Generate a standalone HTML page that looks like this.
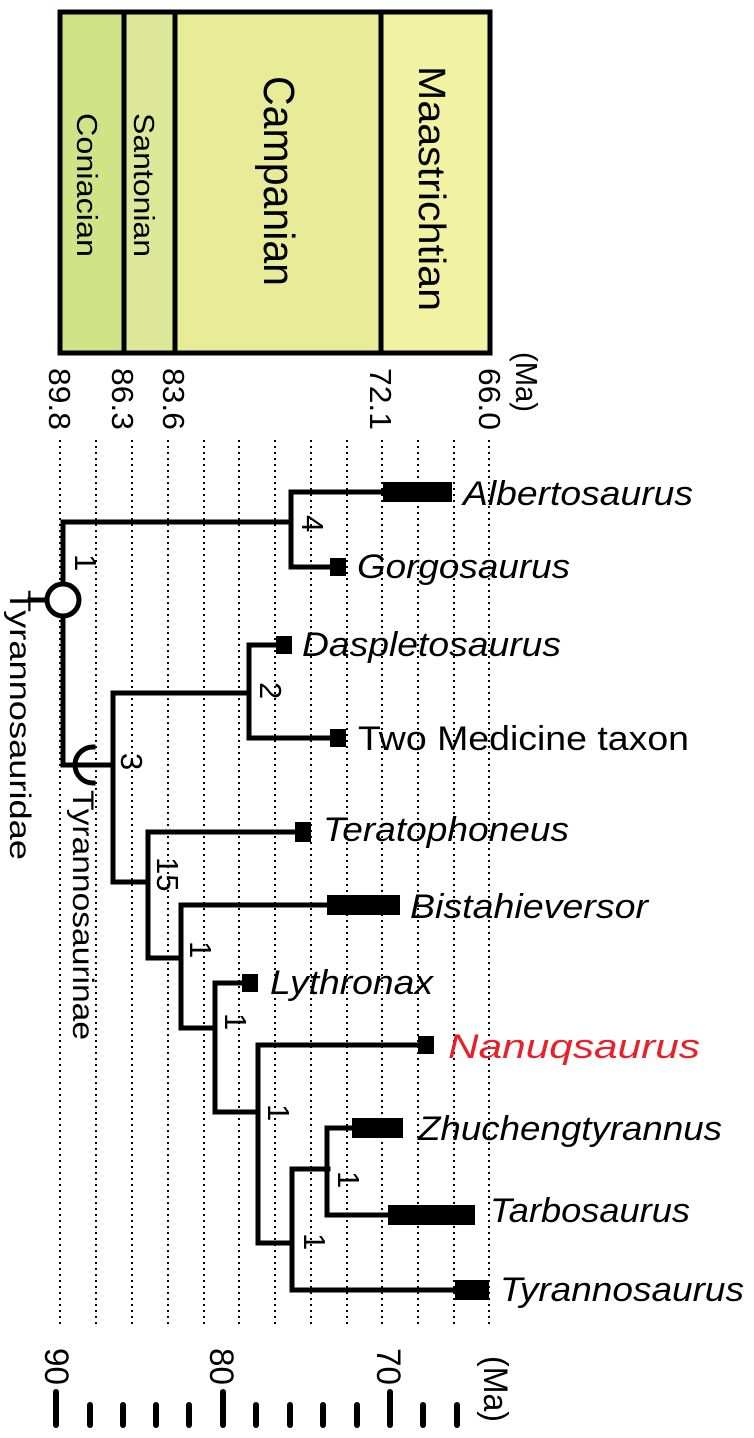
<!DOCTYPE html>
<html><head><meta charset="utf-8"><style>
html,body{margin:0;padding:0;background:#fff;}
svg{display:block;font-family:"Liberation Sans",sans-serif;}
</style></head><body>
<svg width="754" height="1438" viewBox="0 0 754 1438" xmlns="http://www.w3.org/2000/svg">
<rect x="60" y="12" width="64" height="341" fill="#d2e287"/>
<rect x="124" y="12" width="51" height="341" fill="#dce797"/>
<rect x="175" y="12" width="206" height="341" fill="#e8eb98"/>
<rect x="381" y="12" width="109" height="341" fill="#f2f2a3"/>
<rect x="60" y="12" width="430" height="341" fill="none" stroke="#000" stroke-width="5"/>
<line x1="124" y1="12" x2="124" y2="353" stroke="#000" stroke-width="5"/>
<line x1="175" y1="12" x2="175" y2="353" stroke="#000" stroke-width="5"/>
<line x1="381" y1="12" x2="381" y2="353" stroke="#000" stroke-width="5"/>
<g fill="#000">
<text transform="translate(77,113) rotate(90)" font-size="29" textLength="144" lengthAdjust="spacingAndGlyphs">Coniacian</text>
<text transform="translate(134,113) rotate(90)" font-size="29" textLength="144" lengthAdjust="spacingAndGlyphs">Santonian</text>
<text transform="translate(264,76) rotate(90)" font-size="44" textLength="210" lengthAdjust="spacingAndGlyphs">Campanian</text>
<text transform="translate(419,66) rotate(90)" font-size="38" textLength="245" lengthAdjust="spacingAndGlyphs">Maastrichtian</text>
<text transform="translate(49,368) rotate(90)" font-size="31" textLength="62" lengthAdjust="spacingAndGlyphs">89.8</text>
<text transform="translate(112,368) rotate(90)" font-size="31" textLength="62" lengthAdjust="spacingAndGlyphs">86.3</text>
<text transform="translate(163,368) rotate(90)" font-size="31" textLength="62" lengthAdjust="spacingAndGlyphs">83.6</text>
<text transform="translate(370,368) rotate(90)" font-size="31" textLength="62" lengthAdjust="spacingAndGlyphs">72.1</text>
<text transform="translate(479,368) rotate(90)" font-size="31" textLength="62" lengthAdjust="spacingAndGlyphs">66.0</text>
<text transform="translate(516,352) rotate(90)" font-size="31" textLength="60" lengthAdjust="spacingAndGlyphs">(Ma)</text>
</g>
<g stroke="#000" stroke-width="2" stroke-dasharray="2,4">
<line x1="60" y1="440" x2="60" y2="1325"/>
<line x1="96" y1="440" x2="96" y2="1325"/>
<line x1="132" y1="440" x2="132" y2="1325"/>
<line x1="168" y1="440" x2="168" y2="1325"/>
<line x1="204" y1="440" x2="204" y2="1325"/>
<line x1="239" y1="440" x2="239" y2="1325"/>
<line x1="275" y1="440" x2="275" y2="1325"/>
<line x1="311" y1="440" x2="311" y2="1325"/>
<line x1="347" y1="440" x2="347" y2="1325"/>
<line x1="382" y1="440" x2="382" y2="1325"/>
<line x1="418" y1="440" x2="418" y2="1325"/>
<line x1="454" y1="440" x2="454" y2="1325"/>
<line x1="489" y1="440" x2="489" y2="1325"/>
</g>
<g stroke="#000" stroke-width="5" fill="none" stroke-linecap="square">
<polyline points="291,522 63,522 63,765 113,765"/>
<polyline points="383,492 291,492 291,567 330,567"/>
<polyline points="276,645 249,645 249,738 330,738"/>
<polyline points="249,693 113,693 113,882 148,882"/>
<polyline points="295,832 148,832 148,958 181,958"/>
<polyline points="327,905 181,905 181,1028 215,1028"/>
<polyline points="242,983 215,983 215,1112 258,1112"/>
<polyline points="418,1045 258,1045 258,1243 292,1243"/>
<polyline points="328,1169 292,1169 292,1290 455,1290"/>
<polyline points="352,1128 327,1128 327,1215 388,1215"/>
<line x1="30" y1="600" x2="47" y2="600"/>
<path d="M93,747 A18,18 0 0 0 93,783" />
</g>
<circle cx="63" cy="600" r="16" fill="#fff" stroke="#000" stroke-width="5"/>
<g fill="#000">
<rect x="383" y="482" width="69" height="20"/>
<rect x="330" y="558" width="16" height="18"/>
<rect x="276" y="636" width="16" height="18"/>
<rect x="330" y="729" width="16" height="18"/>
<rect x="295" y="822" width="16" height="20"/>
<rect x="327" y="895" width="73" height="20"/>
<rect x="242" y="974" width="16" height="18"/>
<rect x="418" y="1036" width="16" height="18"/>
<rect x="352" y="1118" width="51" height="20"/>
<rect x="388" y="1205" width="87" height="20"/>
<rect x="455" y="1280" width="34" height="20"/>
</g>
<g fill="#000" font-size="31">
<text transform="translate(75,554) rotate(90)">1</text>
<text transform="translate(302,515) rotate(90)">4</text>
<text transform="translate(260,682) rotate(90)">2</text>
<text transform="translate(121,753) rotate(90)">3</text>
<text transform="translate(157,857) rotate(90)">15</text>
<text transform="translate(190,941) rotate(90)">1</text>
<text transform="translate(225,1013) rotate(90)">1</text>
<text transform="translate(268,1104) rotate(90)">1</text>
<text transform="translate(338,1171) rotate(90)">1</text>
<text transform="translate(304,1233) rotate(90)">1</text>
<text transform="translate(10,590) rotate(90)" font-size="30" textLength="270" lengthAdjust="spacingAndGlyphs">Tyrannosauridae</text>
<text transform="translate(73,790) rotate(90)" font-size="30" textLength="250" lengthAdjust="spacingAndGlyphs">Tyrannosaurinae</text>
</g>
<g fill="#000" font-size="34" font-style="italic">
<text x="463" y="505" textLength="230" lengthAdjust="spacingAndGlyphs">Albertosaurus</text>
<text x="357" y="578" textLength="213" lengthAdjust="spacingAndGlyphs">Gorgosaurus</text>
<text x="302" y="656" textLength="259" lengthAdjust="spacingAndGlyphs">Daspletosaurus</text>
<text x="358" y="750" font-style="normal" textLength="331" lengthAdjust="spacingAndGlyphs">Two Medicine taxon</text>
<text x="323" y="841" textLength="246" lengthAdjust="spacingAndGlyphs">Teratophoneus</text>
<text x="410" y="918" textLength="238" lengthAdjust="spacingAndGlyphs">Bistahieversor</text>
<text x="270" y="994" textLength="163" lengthAdjust="spacingAndGlyphs">Lythronax</text>
<text x="448" y="1058" fill="#e8202a" textLength="252" lengthAdjust="spacingAndGlyphs">Nanuqsaurus</text>
<text x="418" y="1140" textLength="304" lengthAdjust="spacingAndGlyphs">Zhuchengtyrannus</text>
<text x="490" y="1222" textLength="200" lengthAdjust="spacingAndGlyphs">Tarbosaurus</text>
<text x="500" y="1301" textLength="244" lengthAdjust="spacingAndGlyphs">Tyrannosaurus</text>
</g>
<g fill="#000" font-size="34">
<text transform="translate(45,1348) rotate(90)" textLength="37" lengthAdjust="spacingAndGlyphs">90</text>
<text transform="translate(210,1348) rotate(90)" textLength="37" lengthAdjust="spacingAndGlyphs">80</text>
<text transform="translate(377,1348) rotate(90)" textLength="37" lengthAdjust="spacingAndGlyphs">70</text>
<text transform="translate(484,1356) rotate(90)" textLength="66" lengthAdjust="spacingAndGlyphs">(Ma)</text>
</g>
<g stroke="#000" stroke-width="6" stroke-linecap="round">
<line x1="56" y1="1392" x2="56" y2="1425"/>
<line x1="90" y1="1405" x2="90" y2="1425"/>
<line x1="123" y1="1405" x2="123" y2="1425"/>
<line x1="156" y1="1405" x2="156" y2="1425"/>
<line x1="189" y1="1405" x2="189" y2="1425"/>
<line x1="223" y1="1392" x2="223" y2="1425"/>
<line x1="256" y1="1405" x2="256" y2="1425"/>
<line x1="290" y1="1405" x2="290" y2="1425"/>
<line x1="323" y1="1405" x2="323" y2="1425"/>
<line x1="357" y1="1405" x2="357" y2="1425"/>
<line x1="390" y1="1392" x2="390" y2="1425"/>
<line x1="423" y1="1405" x2="423" y2="1425"/>
<line x1="457" y1="1405" x2="457" y2="1425"/>
</g>
</svg>
</body></html>
